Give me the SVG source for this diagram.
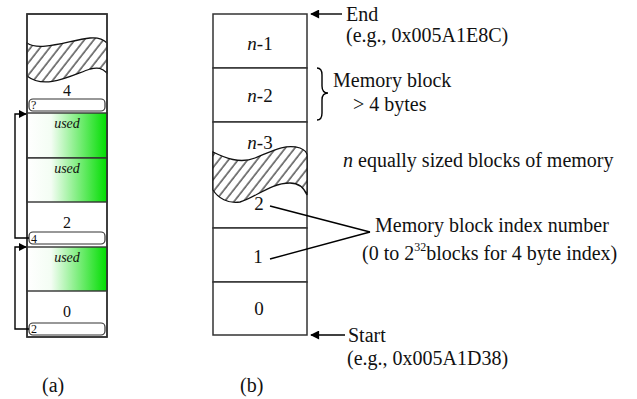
<svg xmlns="http://www.w3.org/2000/svg" width="637" height="399" viewBox="0 0 637 399">
  <style>
    .frame { fill: #fff; stroke: #333; stroke-width: 1.5; }
    .cell { stroke: #333; stroke-width: 1.4; }
    .wire { stroke: #000; stroke-width: 1.4; fill: none; }
    .tag { fill: #fff; stroke: #333; stroke-width: 1.2; }
    .t { font-family: "Liberation Serif", "Times New Roman", serif; fill: #111; }
    .big { font-size: 20px; }
    .lbl { font-size: 19px; }
    .num { font-size: 16px; }
    .used { font-size: 14px; font-style: italic; }
    .small { font-size: 12px; }
    .hatch { fill: url(#hatch); stroke: #111; stroke-width: 1.3; }
  </style>
  <defs>
    <linearGradient id="green" x1="0" y1="0" x2="1" y2="0">
      <stop offset="0" stop-color="#ffffff"/>
      <stop offset="0.3" stop-color="#f4fdf4"/>
      <stop offset="1" stop-color="#00dd00"/>
    </linearGradient>
    <pattern id="hatch" width="7.5" height="7.5" patternUnits="userSpaceOnUse" patternTransform="rotate(38)">
      <rect width="7.5" height="7.5" fill="#fff"/>
      <line x1="1" y1="-1" x2="1" y2="9" stroke="#000" stroke-width="1"/>
    </pattern>
    <marker id="head" viewBox="0 0 10 10" refX="9" refY="5" markerWidth="8" markerHeight="8" markerUnits="userSpaceOnUse" orient="auto">
      <path d="M0,0 L10,5 L0,10 Z" fill="#000"/>
    </marker>
    <marker id="bighead" viewBox="0 0 10 10" refX="9" refY="5" markerWidth="11" markerHeight="9" markerUnits="userSpaceOnUse" orient="auto">
      <path d="M0,0 L10,5 L0,10 Z" fill="#000"/>
    </marker>
  </defs>

  <!-- (a) free-list heap -->
  <g id="heap-a">
    <rect class="frame" x="27" y="14" width="80" height="323"/>
    <path class="hatch" d="M27,43 C40,52 70,40 90,38 C100,37 104,40 107,43 L107,73 C102,68 98,67 90,69 C70,76 45,90 27,76 Z"/>
    <text class="t num" x="67" y="96" text-anchor="middle">4</text>
    <rect class="tag" x="29" y="99" width="76" height="12" rx="4"/>
    <text class="t small" x="31" y="109">?</text>
  </g>
  <g id="used-1">
    <rect class="cell" x="27" y="113" width="80" height="45" fill="url(#green)"/>
    <text class="t used" x="67" y="128" text-anchor="middle">used</text>
  </g>
  <g id="used-2">
    <rect class="cell" x="27" y="158" width="80" height="44" fill="url(#green)"/>
    <text class="t used" x="67" y="173" text-anchor="middle">used</text>
  </g>
  <g id="free-2">
    <text class="t num" x="67" y="228" text-anchor="middle">2</text>
    <rect class="tag" x="29" y="232" width="76" height="12" rx="4"/>
    <text class="t small" x="31" y="243">4</text>
  </g>
  <g id="used-3">
    <rect class="cell" x="27" y="247" width="80" height="44" fill="url(#green)"/>
    <text class="t used" x="67" y="262" text-anchor="middle">used</text>
  </g>
  <g id="free-0">
    <text class="t num" x="67" y="317" text-anchor="middle">0</text>
    <rect class="tag" x="29" y="323" width="76" height="12" rx="4"/>
    <text class="t small" x="31" y="333">2</text>
  </g>
  <rect x="27" y="14" width="80" height="323" fill="none" stroke="#333" stroke-width="1.5"/>

  <!-- (b) block array -->
  <g id="block-n1">
    <rect class="frame" x="213" y="14" width="94" height="54"/>
    <text class="t lbl" x="260" y="50" text-anchor="middle"><tspan font-style="italic">n</tspan>-1</text>
  </g>
  <g id="block-n2">
    <rect class="frame" x="213" y="68" width="94" height="54"/>
    <text class="t lbl" x="260" y="102" text-anchor="middle"><tspan font-style="italic">n</tspan>-2</text>
  </g>
  <g id="block-range">
    <rect class="frame" x="213" y="122" width="94" height="106"/>
    <path class="hatch" d="M213,152 C225,158 240,164 255,158 C270,152 285,143 300,148 Q307,151 307,155 L307,195 Q302,183 290,183 C270,183 255,198 240,202 C228,204 218,198 213,190 Z"/>
    <text class="t lbl" x="260" y="149" text-anchor="middle"><tspan font-style="italic">n</tspan>-3</text>
    <text class="t lbl" x="259" y="210" text-anchor="middle">2</text>
  </g>
  <g id="block-1">
    <rect class="frame" x="213" y="228" width="94" height="54"/>
    <text class="t lbl" x="258" y="263" text-anchor="middle">1</text>
  </g>
  <g id="block-0">
    <rect class="frame" x="213" y="282" width="94" height="53"/>
    <text class="t lbl" x="259" y="315" text-anchor="middle">0</text>
  </g>

  <!-- annotations -->
  <g id="end-label">
    <text class="t big" x="346" y="21">End</text>
    <text class="t big" x="346" y="42">(e.g., 0x005A1E8C)</text>
  </g>
  <g id="block-size-label">
    <text class="t big" x="333" y="87">Memory block</text>
    <text class="t big" x="353" y="111">&gt; 4 bytes</text>
  </g>
  <g id="count-label">
    <text class="t big" x="343" y="167"><tspan font-style="italic">n</tspan> equally sized blocks of memory</text>
  </g>
  <g id="index-label">
    <text class="t big" x="375" y="232">Memory block index number</text>
    <text class="t big" x="362" y="260">(0 to 2<tspan font-size="12" dy="-9">32</tspan><tspan dy="9">blocks for 4 byte index)</tspan></text>
  </g>
  <g id="start-label">
    <text class="t big" x="348" y="342">Start</text>
    <text class="t big" x="347" y="365">(e.g., 0x005A1D38)</text>
  </g>
  <g id="captions">
    <text class="t" font-size="20" x="42" y="392">(a)</text>
    <text class="t" font-size="20" x="240" y="392">(b)</text>
  </g>

  <!-- connectors -->
  <g id="connectors">
    <polyline class="wire" points="29,238 15,238 15,114 26,114" marker-end="url(#head)"/>
    <polyline class="wire" points="29,329 15,329 15,247 26,247" marker-end="url(#head)"/>
    <line class="wire" x1="342" y1="14" x2="311" y2="14" stroke-width="2" marker-end="url(#bighead)"/>
    <line class="wire" x1="345" y1="335" x2="311" y2="335" stroke-width="2" marker-end="url(#bighead)"/>
    <path class="wire" d="M317,68 Q322,68 322,75 L322,86 Q322,93 328,93 Q322,93 322,100 L322,113 Q322,120 317,120" stroke-width="1.2"/>
    <line class="wire" x1="270" y1="206" x2="370" y2="232" stroke-width="1.2"/>
    <line class="wire" x1="270" y1="259" x2="370" y2="232" stroke-width="1.2"/>
  </g>
</svg>
